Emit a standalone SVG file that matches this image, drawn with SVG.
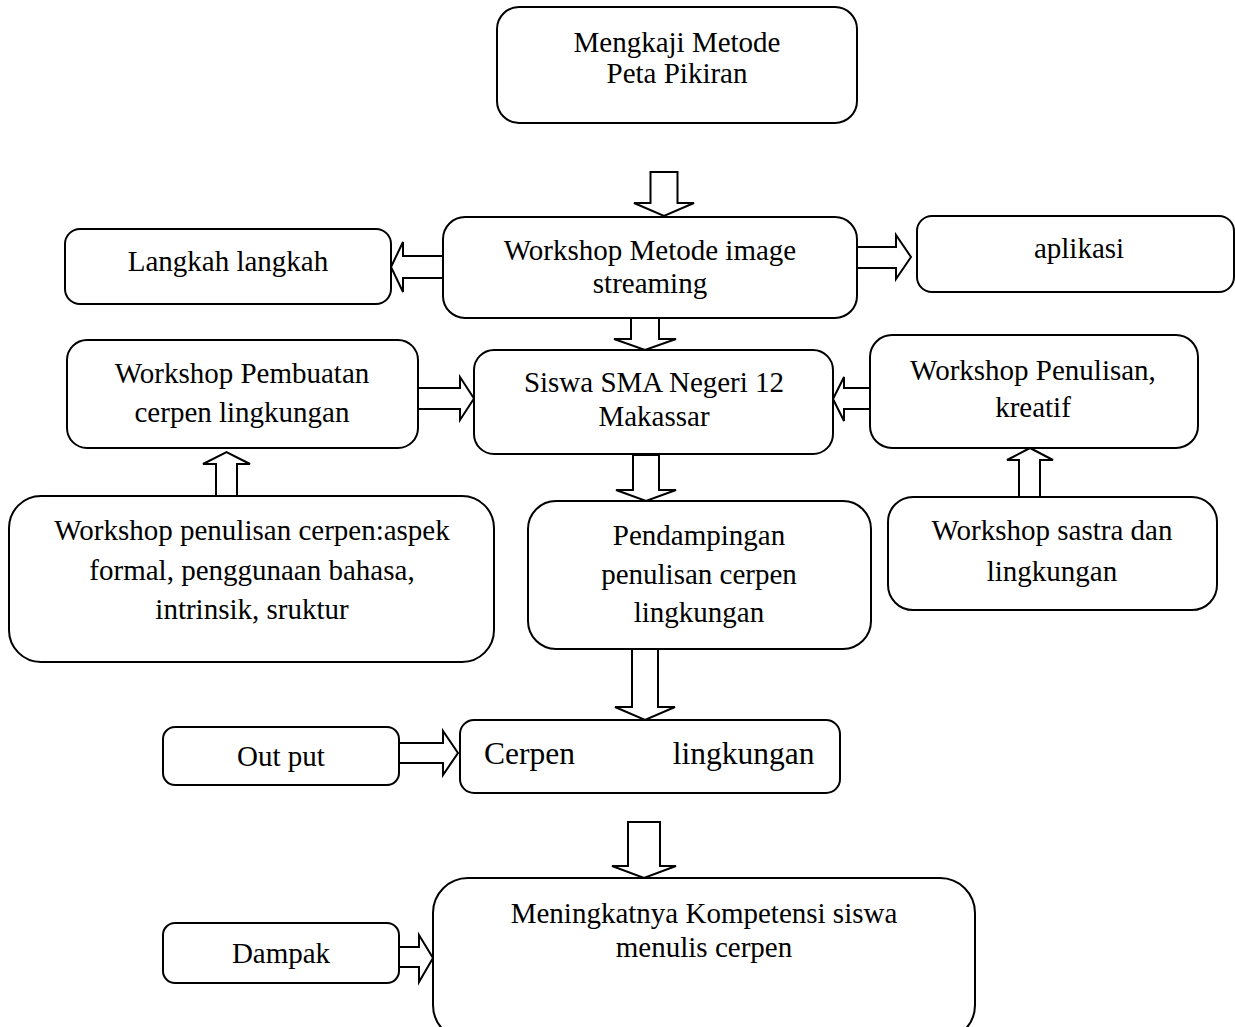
<svg xmlns="http://www.w3.org/2000/svg" width="1235" height="1027" viewBox="0 0 1235 1027">
<style>
.box{fill:#fff;stroke:#000;stroke-width:2}
.arr{fill:#fff;stroke:#000;stroke-width:2;stroke-linejoin:miter}
text{font-family:"Liberation Serif","Times New Roman",serif;font-size:29px;fill:#000;text-anchor:middle}
</style>
<rect width="1235" height="1027" fill="#fff"/>
<g id="connectors">
<polygon class="arr" points="650.5,172 677.5,172 677.5,203 694,203 664,216 634,203 650.5,203"/>
<polygon class="arr" points="443,256 443,278 403,278 403,292 391,267 403,242 403,256"/>
<polygon class="arr" points="857,247 896,247 896,235 911,257 896,279 896,268 857,268"/>
<polygon class="arr" points="631,318 659,318 659,339 676,339 645,350 614,339 631,339"/>
<polygon class="arr" points="418,388 460,388 460,377 474,398.5 460,420 460,409 418,409"/>
<polygon class="arr" points="870,388 844,388 844,377 833,399 844,421 844,409 870,409"/>
<polygon class="arr" points="216,496 237,496 237,464 250,464 226.5,452 203,464 216,464"/>
<polygon class="arr" points="1019,497 1040,497 1040,460 1053,460 1030,448 1007,460 1019,460"/>
<polygon class="arr" points="633,455 659,455 659,490 676,490 646,501 616,490 633,490"/>
<polygon class="arr" points="632,649 658,649 658,707 675,707 645,720 615,707 632,707"/>
<polygon class="arr" points="399,743 443,743 443,731 458,753 443,775 443,763 399,763"/>
<polygon class="arr" points="628,822 660,822 660,866 676,866 644,878 612,866 628,866"/>
<polygon class="arr" points="399,947 419,947 419,935 433,958 419,982 419,967 399,967"/>
</g>
<g id="n-mengkaji">
<rect class="box" x="497" y="7" width="360" height="116" rx="22"/>
<text x="677" y="52">Mengkaji Metode</text>
<text x="677" y="83">Peta Pikiran</text>
</g>
<g id="n-workshop-metode">
<rect class="box" x="443" y="217" width="414" height="101" rx="22"/>
<text x="650" y="260">Workshop Metode image</text>
<text x="650" y="293">streaming</text>
</g>
<g id="n-langkah">
<rect class="box" x="65" y="229" width="326" height="75" rx="15"/>
<text x="228" y="271">Langkah langkah</text>
</g>
<g id="n-aplikasi">
<rect class="box" x="917" y="216" width="317" height="76" rx="15"/>
<text x="1079" y="258">aplikasi</text>
</g>
<g id="n-pembuatan">
<rect class="box" x="67" y="340" width="351" height="108" rx="20"/>
<text x="242" y="383">Workshop Pembuatan</text>
<text x="242" y="422">cerpen lingkungan</text>
</g>
<g id="n-siswa">
<rect class="box" x="474" y="350" width="359" height="104" rx="20"/>
<text x="654" y="392">Siswa SMA Negeri 12</text>
<text x="654" y="426">Makassar</text>
</g>
<g id="n-kreatif">
<rect class="box" x="870" y="335" width="328" height="113" rx="22"/>
<text x="1033" y="380">Workshop Penulisan,</text>
<text x="1033" y="417">kreatif</text>
</g>
<g id="n-penulisan">
<rect class="box" x="9" y="496" width="485" height="166" rx="32"/>
<text x="252" y="540">Workshop penulisan cerpen:aspek</text>
<text x="252" y="580">formal, penggunaan bahasa,</text>
<text x="252" y="619">intrinsik, sruktur</text>
</g>
<g id="n-pendampingan">
<rect class="box" x="528" y="501" width="343" height="148" rx="28"/>
<text x="699" y="545">Pendampingan</text>
<text x="699" y="584">penulisan cerpen</text>
<text x="699" y="622">lingkungan</text>
</g>
<g id="n-sastra">
<rect class="box" x="888" y="497" width="329" height="113" rx="25"/>
<text x="1052" y="540">Workshop sastra dan</text>
<text x="1052" y="581">lingkungan</text>
</g>
<g id="n-output">
<rect class="box" x="163" y="727" width="236" height="58" rx="12"/>
<text x="281" y="766">Out put</text>
</g>
<g id="n-cerpen">
<rect class="box" x="460" y="720" width="380" height="73" rx="14"/>
<text x="484" y="764" style="text-anchor:start;font-size:31.5px" word-spacing="90">Cerpen lingkungan</text>
</g>
<g id="n-dampak">
<rect class="box" x="163" y="923" width="236" height="60" rx="12"/>
<text x="281" y="963">Dampak</text>
</g>
<g id="n-meningkatnya">
<rect class="box" x="433" y="878" width="542" height="162" rx="35"/>
<text x="704" y="923">Meningkatnya Kompetensi siswa</text>
<text x="704" y="957">menulis cerpen</text>
</g>
</svg>
